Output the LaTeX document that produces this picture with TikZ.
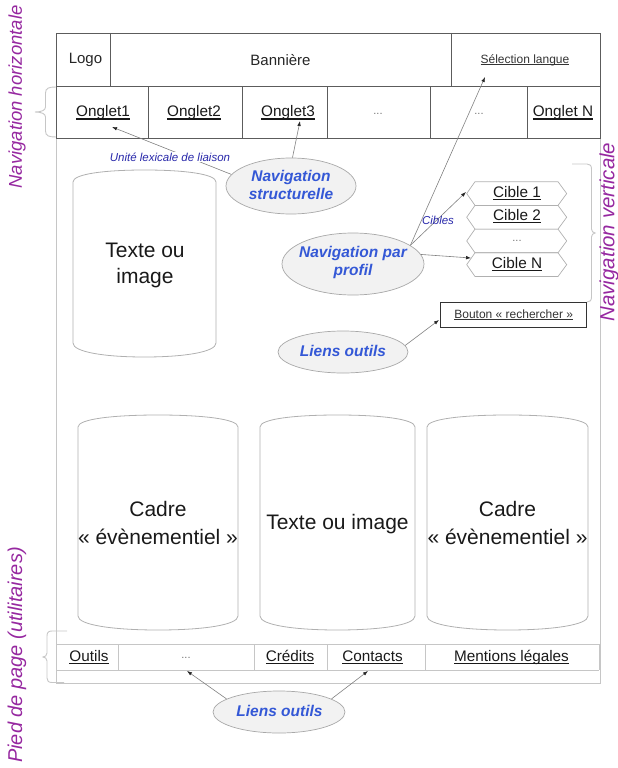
\documentclass[tikz,border=0pt]{standalone}
\usepackage{fontspec}
\setmainfont{Liberation Sans}
\usetikzlibrary{shapes.geometric,arrows.meta}

\definecolor{edgedark}{HTML}{5C5C5C}
\definecolor{edgelight}{HTML}{C6C6C6}
\definecolor{canedge}{HTML}{B0B0B0}
\definecolor{navblue}{RGB}{52,88,214}
\definecolor{noteblue}{RGB}{40,40,170}
\definecolor{sidepurple}{RGB}{150,40,160}
\definecolor{ellfill}{HTML}{F2F2F2}
\definecolor{ellline}{HTML}{A8A8A8}
\definecolor{arrowgray}{HTML}{808080}

% underlined link text
\newcommand\lien[1]{\setbox0=\hbox{#1}\rlap{\rule[-0.17em]{\wd0}{0.07em}}\box0}

% rounded "can" outline: x-left, x-right, top apex, bottom apex
\newcommand\canoutline[4]{%
  \draw[canline] (#1,{#3+12})
    .. controls (#1,{#3+4}) and ({#1+0.22*(#2-#1)},#3) .. ({(#1+#2)/2},#3)
    .. controls ({#2-0.22*(#2-#1)},#3) and (#2,{#3+4}) .. (#2,{#3+12})
    -- (#2,{#4-14})
    .. controls (#2,{#4-5}) and ({#2-0.22*(#2-#1)},#4) .. ({(#1+#2)/2},#4)
    .. controls ({#1+0.22*(#2-#1)},#4) and (#1,{#4-5}) .. (#1,{#4-14})
    -- cycle;}

% flat-topped hexagon for a target entry: top y
\newcommand\hexrow[1]{%
  \draw[hexline] (466.7,{#1+11.85}) -- (475,#1) -- (558,#1) -- (566.7,{#1+11.85})
    -- (558,{#1+23.7}) -- (475,{#1+23.7}) -- cycle;}

\begin{document}
\begin{tikzpicture}[x=1pt,y=-1pt,
  darkline/.style={draw=edgedark,line width=0.8pt},
  lightline/.style={draw=edgelight,line width=0.8pt},
  frameline/.style={draw=edgelight,line width=1pt},
  canline/.style={draw=canedge,line width=0.8pt},
  hexline/.style={draw=canedge,line width=0.7pt},
  bracket/.style={draw=edgelight,line width=0.9pt},
  hd/.style={font=\fontsize{15}{17}\selectfont,text=black!85,inner sep=0pt},
  tab/.style={font=\fontsize{15.3}{17}\selectfont,text=black!90,inner sep=0pt},
  dots/.style={font=\fontsize{11}{13}\selectfont,text=black!55,inner sep=0pt},
  smalllink/.style={font=\fontsize{12}{14}\selectfont,text=black!80,inner sep=0pt},
  bigtxt/.style={font=\fontsize{21}{26}\selectfont,align=center,text=black!90},
  navtxt/.style={font=\fontsize{15.5}{18}\selectfont\bfseries\itshape,text=navblue,align=center},
  note/.style={font=\fontsize{11.5}{13}\selectfont\itshape,text=noteblue},
  side/.style={font=\fontsize{18.5}{20}\selectfont\itshape,text=sidepurple,rotate=90},
  bulle/.style={ellipse,draw=ellline,fill=ellfill,line width=0.7pt,inner sep=0pt},
  arr/.style={draw=arrowgray,line width=0.6pt,-{Latex[length=5pt,width=3.6pt,color=black!85]}}]

\useasboundingbox (0,0) rectangle (618,768);

% ---- page frame ----
\draw[frameline] (56,138) -- (56,683) -- (600,683) -- (600,138);

% ---- header and tab bar ----
\draw[darkline] (56,33) rectangle (600,138);
\draw[darkline] (56,86) -- (600,86);
\draw[darkline] (110,33) -- (110,86);
\draw[darkline] (451,33) -- (451,86);
\foreach \xx in {148,242,327,430,527} \draw[darkline] (\xx,86) -- (\xx,138);

\node[hd] (logo) at (85.5,60) {Logo};
\node[hd] (banniere) at (280.5,60) {Bannière};
\node[smalllink] (langue) at (525,60) {\lien{Sélection langue}};

\node[tab] (onglet1) at (103,113) {\lien{Onglet1}};
\node[tab] (onglet2) at (194,113) {\lien{Onglet2}};
\node[tab] (onglet3) at (288,113) {\lien{Onglet3}};
\node[dots] (ongletA) at (378,114) {...};
\node[dots] (ongletB) at (479,114) {...};
\node[tab] (ongletN) at (563,113) {\lien{Onglet N}};

% ---- footer bar ----
\draw[lightline] (56,644) -- (599,644);
\draw[lightline] (56,670) -- (599,670);
\foreach \xx in {118,254,327,425,599} \draw[lightline] (\xx,644) -- (\xx,670);

\node[tab] (outils) at (89,657) {\lien{Outils}};
\node[dots] (pieddots) at (186,658) {...};
\node[tab] (credits) at (290,657) {\lien{Crédits}};
\node[tab] (contacts) at (372.5,657) {\lien{Contacts}};
\node[tab] (mentions) at (511.5,657) {\lien{Mentions légales}};

% ---- side braces ----
\draw[bracket] (56,87) .. controls (49,87) and (45.5,88) .. (45.5,93) -- (45.5,107)
  .. controls (45.5,110) and (42,112) .. (35,112)
  .. controls (42,112) and (45.5,114) .. (45.5,117) -- (45.5,131)
  .. controls (45.5,136) and (49,137) .. (56,137);
\draw[bracket] (67,631) -- (52,631) .. controls (48.5,631) and (47,632.5) .. (47,636) -- (47,653)
  .. controls (47,655.5) and (45,657) .. (43,657)
  .. controls (45,657) and (47,658.5) .. (47,661) -- (47,678)
  .. controls (47,681) and (48.5,682.5) .. (52,682.5) -- (64,682.5);
\draw[bracket] (572,164) -- (587,164) .. controls (590,164) and (591.5,165.5) .. (591.5,169) -- (591.5,229)
  .. controls (591.5,231) and (593,233) .. (595,233)
  .. controls (593,233) and (591.5,235) .. (591.5,237) -- (591.5,297)
  .. controls (591.5,300.5) and (590,302) .. (587,302);

\node[side] (navh) at (17,97) {Navigation horizontale};
\node[side,font=\fontsize{20.5}{22}\selectfont\itshape] (navv) at (609,232) {Navigation verticale};
\node[side,font=\fontsize{20}{22}\selectfont\itshape] (pied) at (17,655) {Pied de page (utilitaires)};

% ---- content blocks ----
\canoutline{73}{216}{170}{357}
\node[bigtxt] (bloc1) at (145,265) {Texte ou\\image};

\canoutline{78}{238}{415}{630}
\canoutline{260}{415}{415}{630}
\canoutline{427}{588}{415}{630}
\node[bigtxt,font=\fontsize{21}{28.5}\selectfont] (cadre1) at (158,523) {Cadre\\« évènementiel »};
\node[bigtxt] (bloc2) at (337.5,524) {Texte ou image};
\node[bigtxt,font=\fontsize{21}{28.5}\selectfont] (cadre2) at (507.5,523) {Cadre\\« évènementiel »};

% ---- target list ----
\hexrow{181.7}
\hexrow{205.4}
\hexrow{229.1}
\hexrow{252.8}
\node[tab] (cible1) at (517,193) {\lien{Cible 1}};
\node[tab] (cible2) at (517,216.5) {\lien{Cible 2}};
\node[dots] (cibledots) at (517,241) {...};
\node[tab] (cibleN) at (517,264) {\lien{Cible N}};

% ---- search button ----
\node[draw=black!80,line width=0.9pt,minimum width=146pt,minimum height=25.7pt,inner sep=0pt,
      font=\fontsize{12}{14}\selectfont,text=black!80] (bouton) at (513.7,314.85) {\lien{Bouton « rechercher »}};

% ---- navigation bubbles ----
\node[bulle,minimum width=130pt,minimum height=56pt] (nstruct) at (291,186) {};
\node[navtxt] (nstruct-t) at (291,185) {Navigation\\structurelle};
\node[bulle,minimum width=142pt,minimum height=62pt] (nprof) at (353,264) {};
\node[navtxt] (nprof-t) at (353,262) {Navigation par\\profil};
\node[bulle,minimum width=130pt,minimum height=42pt] (liens1) at (343,352) {};
\node[navtxt] (liens1-t) at (343,351) {Liens outils};
\node[bulle,minimum width=132pt,minimum height=42pt] (liens2) at (279,712) {};
\node[navtxt] (liens2-t) at (279.5,711) {Liens outils};

% arrow ends
\coordinate (to-onglet1) at (112,127);
\coordinate (to-onglet3) at (300,121);
\coordinate (to-langue) at (485,77);
\coordinate (to-cible1) at (466,192);
\coordinate (to-cibleN) at (471,258);
\coordinate (to-bouton) at (439,320);
\coordinate (to-pieddots) at (187,671);
\coordinate (to-contacts) at (368,671);

% ---- connectors ----
\draw[arr] (nstruct.169) -- (to-onglet1);
\draw[arr] (nstruct.87) -- (to-onglet3);
\draw[arr] (nprof.18) -- (to-langue);
\draw[arr] (nprof.18) -- (to-cible1);
\draw[arr] (nprof.8) -- (to-cibleN);
\draw[arr] (liens1.6) -- (to-bouton);
\draw[arr] (liens2.166) -- (to-pieddots);
\draw[arr] (liens2.14) -- (to-contacts);

\node[note,fill=white,inner sep=1pt] (liaison) at (170,157) {Unité lexicale de liaison};
\node[note] (cibles) at (438,220) {Cibles};

\end{tikzpicture}
\end{document}
